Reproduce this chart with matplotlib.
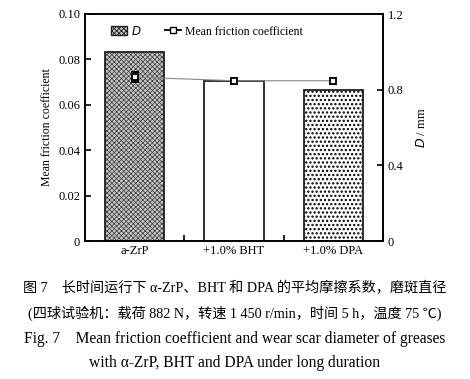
import matplotlib
matplotlib.use('Agg')
import matplotlib.pyplot as plt
from matplotlib.patches import Patch
from matplotlib.lines import Line2D

plt.rcParams['font.family'] = ['Liberation Serif', 'Noto Sans CJK SC']
plt.rcParams['hatch.linewidth'] = 0.6

# data
samples = ['a-ZrP', '+1.0% BHT', '+1.0% DPA']
wear_d = [1.0, 0.845, 0.80]          # D / mm
friction = [0.0722, 0.0706, 0.0706]  # mean friction coefficient
friction_err = [0.0022, 0.0013, 0.0013]

fig = plt.figure(figsize=(4.7, 3.79), dpi=100)
ax = fig.add_axes([85/470, 1 - 241/379, 298/470, 227/379])
ax2 = ax.twinx()

x = list(range(len(samples)))
fills = ['#c4c4c4', 'white', 'white']
hatches = ['xxxxxxx', '', '....']
hatch_cols = ['#3a3a3a', 'white', 'black']
hatch_lws = [0.5, 0.5, 1.1]
for i in x:
    b = ax2.bar(i, wear_d[i], width=0.6, color=fills[i], edgecolor=hatch_cols[i],
                hatch=hatches[i], linewidth=0, zorder=1)
    for p in b:
        try:
            p.set_hatch_linewidth(hatch_lws[i])
        except AttributeError:
            pass
    ax2.bar(i, wear_d[i], width=0.6, fill=False, edgecolor='#202020',
            linewidth=1.3, zorder=2)

ax.set_zorder(ax2.get_zorder() + 1)
ax.patch.set_visible(False)
ax.plot(x, friction, color='#888888', lw=0.8, zorder=2)
ax.errorbar(x, friction, yerr=friction_err, fmt='s', ms=5, mfc='white', mec='black',
            mew=1.3, ecolor='black', elinewidth=1.2, capsize=3, capthick=1.2, zorder=3)

ax.set_xlim(-0.5, 2.5)
ax.set_ylim(0, 0.10)
ax2.set_ylim(0, 1.2)
ax.set_yticks([0, 0.02, 0.04, 0.06, 0.08, 0.10])
ax.set_yticklabels(['0', '0.02', '0.04', '0.06', '0.08', '0.10'])
ax2.set_yticks([0, 0.4, 0.8, 1.2])
ax2.set_yticklabels(['0', '0.4', '0.8', '1.2'])
ax.set_xticks(x)
ax.set_xticklabels(samples)
ax.set_xticks([0.5, 1.5], minor=True)
ax.tick_params(axis='x', which='major', length=0, labelsize=9, pad=3)
ax.tick_params(axis='x', which='minor', direction='in', length=4, width=1.2)
ax.tick_params(axis='y', direction='in', length=4, width=1.2, labelsize=9)
ax2.tick_params(axis='y', direction='in', length=4, width=1.2, labelsize=9)
for a in (ax, ax2):
    for s in a.spines.values():
        s.set_linewidth(1.2)

ax.set_ylabel('Mean friction coefficient', fontsize=8.5)
ax2.set_ylabel('$D$ / mm', fontsize=9, labelpad=8)

handles = [Patch(facecolor='#c4c4c4', edgecolor='#202020', hatch='xxxxxxx', label='$D$'),
           Line2D([0], [0], color='black', marker='s', mfc='white', mec='black', lw=1.3,
                  ms=5, label='Mean friction coefficient')]
ax.legend(handles=handles, loc='upper left', ncol=2, frameon=False, fontsize=8.5,
          handlelength=1.4, handletextpad=0.3, columnspacing=2.0,
          bbox_to_anchor=(0.05, 1.0))

fig.text(0.5, 1 - 288/379, '图 7　长时间运行下 α-ZrP、BHT 和 DPA 的平均摩擦系数，磨斑直径',
         ha='center', va='center', fontsize=10.2, fontweight='medium')
fig.text(0.5, 1 - 313/379, '(四球试验机：载荷 882 N，转速 1 450 r/min，时间 5 h，温度 75 ℃)',
         ha='center', va='center', fontsize=10.2, fontweight='medium')
fig.text(0.5, 1 - 339/379, 'Fig. 7　Mean friction coefficient and wear scar diameter of greases',
         ha='center', va='center', fontsize=11.2)
fig.text(0.5, 1 - 363/379, 'with α-ZrP, BHT and DPA under long duration',
         ha='center', va='center', fontsize=11.2)

fig.savefig('out.png', dpi=100)
